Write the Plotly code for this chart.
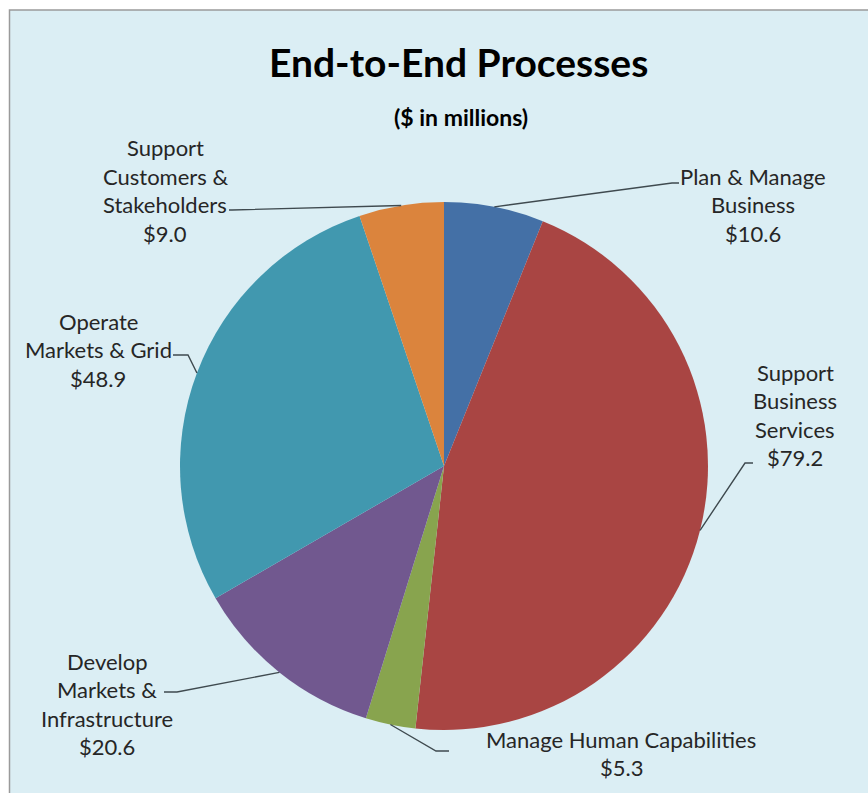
import math
import plotly.graph_objects as go

# ---- data ----
categories = ["Plan & Manage Business", "Support Business Services", "Manage Human Capabilities",
              "Develop Markets & Infrastructure", "Operate Markets & Grid", "Support Customers & Stakeholders"]
values = [10.6, 79.2, 5.3, 20.6, 48.9, 9.0]
colors = ["#4470A6", "#A94543", "#88A44E", "#71588F", "#4198AF", "#DB843D"]
label_lines = [
    ["Plan & Manage", "Business"],
    ["Support", "Business", "Services"],
    ["Manage Human Capabilities"],
    ["Develop", "Markets &", "Infrastructure"],
    ["Operate", "Markets & Grid"],
    ["Support", "Customers &", "Stakeholders"],
]

# ---- layout constants ----
W, H = 868, 793
CX, CY, R = 444, 466, 264
LINE_H = 28.5
# label block: centre x, first-line y (px)
label_pos = [(753, 176), (795, 372), (621, 739), (107, 661), (98, 321), (165, 148)]
# leader elbow and end (px)
leader_pts = [((672, 183), (679, 183)),
              ((745, 463), (753, 463)),
              ((436, 751), (449, 751)),
              ((177, 692), (164, 692)),
              ((188, 355), (173, 355)),
              ((232, 210), (229, 210))]

def px(x):
    return x / W

def py(y):
    return 1 - y / H

fig = go.Figure(go.Pie(
    labels=categories, values=values, sort=False, direction="clockwise", rotation=0,
    marker=dict(colors=colors, line=dict(width=0)),
    textinfo="none", hoverinfo="label+value", showlegend=False,
    domain=dict(x=[px(CX - R), px(CX + R)], y=[py(CY + R), py(CY - R)]),
))

shapes = [dict(type="rect", xref="paper", yref="paper", x0=px(9.5), x1=1.05, y0=-0.05, y1=py(10),
               fillcolor="#DBEEF4", line=dict(color="#9A9A9A", width=1.5), layer="below")]
annotations = []
total = sum(values)
cum = 0.0
font_lbl = dict(family="Lato, Calibri, sans-serif", size=22, color="#262626")
for i, v in enumerate(values):
    mid = (cum + v / 2) / total * 2 * math.pi
    cum += v
    ex = CX + R * math.sin(mid)
    ey = CY - R * math.cos(mid)
    (bx, by), (tx, ty) = leader_pts[i]
    path = f"M {px(ex)} {py(ey)} L {px(bx)} {py(by)} L {px(tx)} {py(ty)}"
    shapes.append(dict(type="path", xref="paper", yref="paper", path=path,
                       line=dict(color="#3F4A4F", width=1.4)))
    lines = label_lines[i] + [f"${v:.1f}"]
    lx, ly = label_pos[i]
    for k, t in enumerate(lines):
        annotations.append(dict(text=t, x=px(lx), y=py(ly + k * LINE_H), xref="paper", yref="paper",
                                xanchor="center", yanchor="middle", showarrow=False, font=font_lbl))

annotations.append(dict(text="<b>End-to-End Processes</b>", x=px(458), y=py(62), xref="paper", yref="paper",
                        xanchor="center", yanchor="middle", showarrow=False,
                        font=dict(family="Lato, Calibri, sans-serif", size=39, color="#000000")))
annotations.append(dict(text="<b>($ in millions)</b>", x=px(461), y=py(117), xref="paper", yref="paper",
                        xanchor="center", yanchor="middle", showarrow=False,
                        font=dict(family="Lato, Calibri, sans-serif", size=23, color="#000000")))

fig.update_layout(width=W, height=H, margin=dict(l=0, r=0, t=0, b=0),
                  paper_bgcolor="#FFFFFF", plot_bgcolor="#FFFFFF",
                  shapes=shapes, annotations=annotations)
fig.write_html("out.html", config={"displayModeBar": False},
               post_script="document.body.style.margin='0';document.body.style.overflow='hidden';")
